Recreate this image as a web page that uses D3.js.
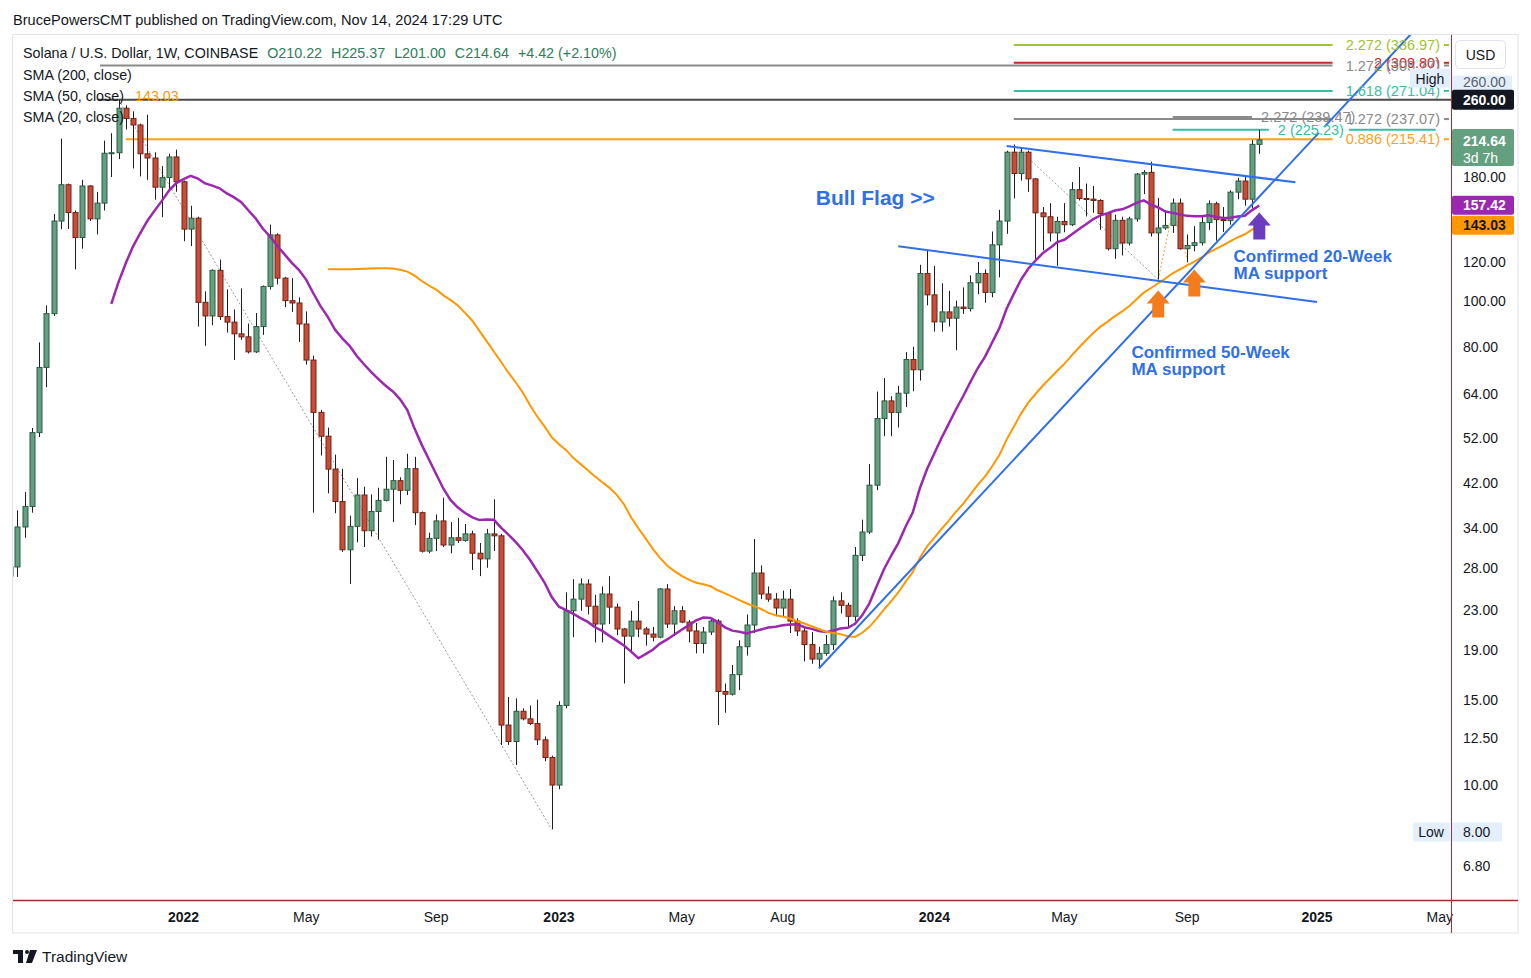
<!DOCTYPE html>
<html>
<head>
<meta charset="utf-8">
<script src="https://cdn.jsdelivr.net/npm/d3@7"></script>
<style>
  body { margin: 0; background: #fff; }
  svg text { font-family: "Liberation Sans", Arial, sans-serif; }
</style>
</head>
<body>
<svg id="chart" width="1531" height="978"></svg>
<script>
// ---- data: SOL/USD weekly candles (Coinbase), first week 2021-06-14
const firstWeek = "2021-06-14";

const opens = [
  35.5, 35, 33, 34, 32, 27, 28.2, 34.1, 37.6, 53.4,
  72.8, 94, 146, 173.5, 152, 135, 172.5, 147.5, 159, 201.5,
  202, 249.6, 237.8, 230.5, 201, 197, 171.5, 179.5, 198, 176,
  140.5, 148, 99.2, 93, 115.5, 92.7, 90.3, 85.4, 84.2, 78.4,
  88.4, 107, 136.7, 111.3, 100, 98.9, 89.5, 75.4, 58.8, 52.5,
  44.9, 38.5, 30.6, 34.2, 39.7, 33.5, 36.7, 38.7, 40.8, 42.5,
  40.6, 45, 36.5, 30.4, 32.3, 35.1, 31.3, 32.4, 32, 33,
  30.1, 29.3, 33, 32.7, 13.3, 12.3, 14.2, 13.7, 13.4, 12.4,
  11.4, 10, 14.6, 22.9, 24.2, 26, 23.4, 21.5, 24.8, 23.3,
  21, 20.3, 21.8, 21, 20.5, 20.2, 25.4, 21.5, 22.9, 21.7,
  20.8, 19.6, 20.7, 21.8, 15.6, 15.4, 16.9, 19.3, 21.4, 27.4,
  24.8, 24.2, 23.2, 24.2, 21.8, 20.8, 19.5, 18.2, 18.7, 19.5,
  24, 23.5, 22.3, 29.8, 33.3, 41.6, 57.1, 62.1, 58.8, 64.4,
  75.6, 72, 113.8, 102.8, 90.4, 94.8, 92, 97, 96.3, 108.9,
  113.8, 104, 130.4, 146, 202.5, 183, 202.5, 178.4, 151.8, 149,
  138, 145.7, 143.5, 169.5, 162.5, 162, 161, 151.3, 128, 146.5,
  131.5, 147.5, 182.5, 184, 138, 141.3, 143, 159, 128, 130,
  131.7, 145, 158.5, 147, 146.3, 167.5, 176.6, 162, 210.22
];
const highs = [
  42, 36.5, 37, 36, 32.8, 30, 36.9, 40.3, 54.6, 82,
  97.8, 151, 216, 174.5, 153.5, 177.6, 173, 167.7, 214, 221.7,
  260, 253, 246, 232, 242, 202.5, 189.6, 201, 205, 177,
  157, 149, 104.5, 116, 121.6, 105.5, 95.9, 106, 89.7, 94.3,
  107.5, 143.6, 137.7, 112, 111.3, 101.6, 95, 77, 59.5, 54.7,
  48.1, 45, 36, 43, 41.3, 39.8, 41.1, 47.6, 46.9, 43.2,
  48.3, 47.6, 36.7, 33.2, 36.2, 39.2, 34.9, 35.6, 34.6, 33.5,
  31.6, 33.8, 38.9, 33, 15.2, 15.1, 14.4, 14.6, 15, 12.6,
  11.5, 14.9, 25, 26.6, 26.7, 26.6, 24.7, 25.7, 27, 23.7,
  21.1, 22.9, 24, 21.2, 21.2, 25.5, 26, 23.4, 23.4, 21.9,
  21.6, 21.2, 22, 22, 16.2, 17.7, 19.9, 22.5, 32.2, 28.4,
  25.7, 24.9, 25.2, 25.4, 22.1, 21.1, 20.7, 19.3, 20.4, 24.5,
  25, 23.8, 31, 35.3, 46, 64.9, 69.2, 63.5, 66.7, 78.3,
  80.3, 118.6, 126.6, 118, 108.6, 104.8, 100, 106.5, 112.8, 120.2,
  116, 138.9, 154, 204, 210, 207, 204, 179, 156, 159,
  149, 159, 175.7, 188.7, 174.5, 172.5, 162, 152, 150.5, 149,
  149, 183.5, 186, 193.5, 163, 153.5, 162.5, 162.5, 137, 142.5,
  149, 161, 160, 156, 169, 179.3, 180, 214.5, 225.37
];
const lows = [
  33, 22.5, 31.5, 30.5, 25, 22.7, 26.9, 32.4, 36.5, 52.3,
  66.3, 93, 140.5, 140.6, 116, 128, 146, 137, 153.5, 180,
  196, 225.7, 187.5, 180.5, 177.6, 161.6, 148.7, 168.5, 167.8, 132.6,
  129.6, 88.4, 80.7, 89, 91.2, 85.9, 75.4, 83, 77.8, 78,
  85, 105.5, 108, 97, 94.8, 82.2, 73.8, 36.5, 47.9, 40,
  36.4, 30.3, 26, 31.7, 31, 32.6, 32.1, 38.5, 34.9, 38,
  39.7, 34.4, 30.2, 30.1, 30.4, 31, 30.1, 31.6, 31.8, 27.8,
  27, 28.1, 30.4, 12.1, 12.1, 11, 13.6, 13.3, 12.1, 11.2,
  8.1, 9.8, 14.4, 20.2, 22.9, 22.5, 19.7, 19.7, 21.5, 20.4,
  16.2, 18.7, 20.2, 19.4, 19.8, 20.1, 21.1, 20.3, 21.6, 19.7,
  18.7, 18.7, 20.4, 13.3, 14.1, 15.3, 15.7, 18.5, 20.6, 24.2,
  23.9, 22.3, 22.2, 20.6, 20.3, 18, 17.8, 17.4, 18.5, 19,
  22.6, 21.2, 21.8, 29, 33, 40.6, 52.5, 52.5, 54.7, 60.3,
  65, 68.4, 97.8, 86.3, 86.3, 88.4, 79, 93.9, 95, 103.1,
  99, 101.6, 111.7, 137.4, 162.5, 177, 167.7, 122, 127, 132.5,
  118, 138.4, 142.5, 161, 149.2, 151.8, 140, 127, 122, 124,
  130, 145.5, 166, 135.6, 110.6, 140, 138, 127.5, 120, 126.5,
  130, 140, 133, 138.6, 143.5, 162, 157, 155, 201
];
const closes = [
  35, 33, 34, 32, 27, 28.2, 34.1, 37.6, 53.4, 72.8,
  94, 146, 173.5, 152, 135, 172.5, 147.5, 159, 201.5, 202,
  249.6, 237.8, 230.5, 201, 197, 171.5, 179.5, 198, 176, 140.5,
  148, 99.2, 93, 115.5, 92.7, 90.3, 85.4, 84.2, 78.4, 88.4,
  107, 136.7, 111.3, 100, 98.9, 89.5, 75.4, 58.8, 52.5, 44.9,
  38.5, 30.6, 34.2, 39.7, 33.5, 36.7, 38.7, 40.8, 42.5, 40.6,
  45, 36.5, 30.4, 32.3, 35.1, 31.3, 32.4, 32, 33, 30.1,
  29.3, 33, 32.7, 13.3, 12.3, 14.2, 13.7, 13.4, 12.4, 11.4,
  10, 14.6, 22.9, 24.2, 26, 23.4, 21.5, 24.8, 23.3, 21,
  20.3, 21.8, 21, 20.5, 20.2, 25.4, 21.5, 22.9, 21.7, 20.8,
  19.6, 20.7, 21.8, 15.6, 15.4, 16.9, 19.3, 21.4, 27.4, 24.8,
  24.2, 23.2, 24.2, 21.8, 20.8, 19.5, 18.2, 18.7, 19.5, 24,
  23.5, 22.3, 29.8, 33.3, 41.6, 57.1, 62.1, 58.8, 64.4, 75.6,
  72, 113.8, 102.8, 90.4, 94.8, 92, 97, 96.3, 108.9, 113.8,
  104, 130.4, 146, 202.5, 183, 202.5, 178.4, 151.8, 149, 138,
  145.7, 143.5, 169.5, 162.5, 162, 161, 151.3, 128, 146.5, 131.5,
  147.5, 182.5, 184, 138, 141.3, 143, 159, 128, 130, 131.7,
  145, 158.5, 147, 146.3, 167.5, 176.6, 162, 210.22, 214.64
];

const priceTicks = [180, 120, 100, 80, 64, 52, 42, 34, 28, 23, 19, 15, 12.5, 10, 6.8];
const timeTickDates = ["2022-01-03", "2022-05-02", "2022-09-05", "2023-01-02", "2023-05-01", "2023-08-07",
                       "2024-01-01", "2024-05-06", "2024-09-02", "2025-01-06", "2025-05-05"];
const timeTickLabels = ["2022", "May", "Sep", "2023", "May", "Aug", "2024", "May", "Sep", "2025", "May"];

const smaPeriods = [20, 50];
const smaLastLabels = [157.42, 143.03];
const highLevel = 260;
const lowLevel = 8;

// fib levels (text, price, start date, end date)
const fibTexts = ["2.272 (336.97)", "2 (309.80)", "1.272 (305.77)", "1.618 (271.04)", "1.272 (237.07)", "0.886 (215.41)"];
const fibPrices = [336.97, 309.80, 305.77, 271.04, 237.07, 215.41];
const fibStarts = ["2024-03-18", "2024-03-18", "2021-10-14", "2024-03-18", "2024-03-18", "2021-11-08"];
const fibEnd = "2025-01-21";
const fib2Texts = ["2.272 (239.47)", "2 (225.23)"];
const fib2Prices = [239.47, 225.23];
const fib2Start = "2024-08-19";
const fib2Ends = ["2024-11-04", "2025-05-01"];
const fib2LabelAt = "2024-12-31";

// drawing anchors [date, price]
const trendLine = [["2023-09-11", 17.4], ["2025-04-07", 355]];
const flagTop = [["2024-03-11", 208.6], ["2024-12-16", 175.5]];
const flagBottom = [["2023-11-27", 129.5], ["2025-01-06", 99.4]];
const dottedGray = [[["2021-11-01", 260], ["2022-12-26", 8.1]], [["2024-03-18", 210], ["2024-08-05", 110.6]]];
const dottedOrange = [["2024-08-05", 110.6], ["2024-08-19", 153], ["2024-09-02", 122]];
const notes = [
  ["Bull Flag >>", "2023-09-08", 163, "big"],
  ["Confirmed 20-Week", "2024-10-17", 123.5, "small"],
  ["MA support", "2024-10-17", 114.1, "small"],
  ["Confirmed 50-Week", "2024-07-10", 78.3, "small"],
  ["MA support", "2024-07-10", 72.2, "small"]
];
const arrows = [["2024-08-05", 105, "orange"], ["2024-09-09", 116, "orange"], ["2024-11-11", 152, "purple"]];

// ---- layout
const plot = { left: 13, top: 35, right: 1451, bottom: 900 };
const outer = { right: 1518, bottom: 933 };
const svg = d3.select("#chart");
const parse = d3.utcParse("%Y-%m-%d");
const start = parse(firstWeek);
const dates = closes.map((_, i) => d3.utcDay.offset(start, 7 * i));

const x = d3.scaleUtc().domain([parse("2022-01-03"), parse("2024-11-11")]).range([183.5, 1259.3]);
const y = d3.scaleLog().domain([8, 180]).range([832, 177]);
const px = d => x(parse(d));
const f2 = d3.format(".2f");

svg.append("rect").attr("width", 1531).attr("height", 978).attr("fill", "#fff");

svg.append("defs").append("clipPath").attr("id", "clip")
  .append("rect").attr("x", plot.left).attr("y", plot.top)
  .attr("width", plot.right - plot.left).attr("height", plot.bottom - plot.top);

// frame
svg.append("rect").attr("x", 12.5).attr("y", 34.5)
  .attr("width", outer.right - 12.5).attr("height", outer.bottom - 34.5)
  .attr("fill", "none").attr("stroke", "#e0e3eb");

const g = svg.append("g").attr("clip-path", "url(#clip)");

// horizontal levels
g.append("line").attr("x1", px("2021-10-12")).attr("x2", plot.right)
  .attr("y1", y(highLevel)).attr("y2", y(highLevel))
  .attr("stroke", "#4a4a4a").attr("stroke-width", 2);

const fibColors = ["#9fc236", "#c62828", "#8a8a8a", "#35bfa0", "#8a8a8a", "#ff9f1a"];
fibPrices.forEach((p, i) => {
  g.append("line").attr("x1", px(fibStarts[i])).attr("x2", px(fibEnd))
    .attr("y1", y(p)).attr("y2", y(p))
    .attr("stroke", fibColors[i]).attr("stroke-width", 2);
  g.append("line").attr("x1", 1444).attr("x2", 1449).attr("y1", y(p)).attr("y2", y(p))
    .attr("stroke", fibColors[i]).attr("stroke-width", 2);
});

const fib2Colors = ["#8a8a8a", "#35bfa0"];
fib2Prices.forEach((p, i) => {
  g.append("line").attr("x1", px(fib2Start)).attr("x2", px(fib2Ends[i]))
    .attr("y1", y(p)).attr("y2", y(p))
    .attr("stroke", fib2Colors[i]).attr("stroke-width", 2);
});

// dotted connectors
const lineGen = d3.line().x(d => px(d[0])).y(d => y(d[1]));
dottedGray.forEach(seg => {
  g.append("path").attr("d", lineGen(seg)).attr("fill", "none")
    .attr("stroke", "#9a9a9a").attr("stroke-width", 1).attr("stroke-dasharray", "2,2");
});
g.append("path").attr("d", lineGen(dottedOrange)).attr("fill", "none")
  .attr("stroke", "#f7a01e").attr("stroke-width", 1).attr("stroke-dasharray", "2,2");

// candles
const up = "#63a07f", upEdge = "#2c5a42", dn = "#c94c36", dnEdge = "#6e2316";
const candles = g.append("g");
dates.forEach((d, i) => {
  const cx = Math.round(x(d)) + 0.5;
  const isUp = closes[i] >= opens[i];
  candles.append("line").attr("x1", cx).attr("x2", cx)
    .attr("y1", y(highs[i])).attr("y2", y(lows[i]))
    .attr("stroke", "#1f1f1f").attr("stroke-width", 1);
  const top = y(Math.max(opens[i], closes[i]));
  const bot = y(Math.min(opens[i], closes[i]));
  candles.append("rect").attr("x", cx - 2.5).attr("y", top)
    .attr("width", 5).attr("height", Math.max(1, bot - top))
    .attr("fill", isUp ? up : dn).attr("stroke", isUp ? upEdge : dnEdge).attr("stroke-width", 1);
});

// moving averages
const sma = n => closes.map((c, i) => i < n - 1 ? null : d3.mean(closes.slice(i - n + 1, i + 1)));
const smaColors = ["#9c27b0", "#ff9800"];
smaPeriods.forEach((n, k) => {
  const vals = sma(n);
  const ln = d3.line().defined(v => v != null).x((v, i) => x(dates[i])).y(v => y(v));
  g.append("path").attr("d", ln(vals)).attr("fill", "none")
    .attr("stroke", smaColors[k]).attr("stroke-width", k === 0 ? 2.5 : 2);
});

// trend and flag lines
[trendLine, flagTop, flagBottom].forEach(seg => {
  g.append("path").attr("d", lineGen(seg)).attr("fill", "none")
    .attr("stroke", "#2f6fe8").attr("stroke-width", 2);
});

// fib labels
fibTexts.forEach((t, i) => {
  g.append("text").attr("x", 1440).attr("y", y(fibPrices[i])).attr("dy", "0.35em")
    .attr("text-anchor", "end").attr("font-size", 14.5).attr("fill", fibColors[i]).text(t);
});
g.append("text").attr("x", px(fib2Ends[0]) + 9).attr("y", y(fib2Prices[0])).attr("dy", "0.35em")
  .attr("font-size", 14.5).attr("fill", fib2Colors[0]).text(fib2Texts[0]);
g.append("rect").attr("x", px(fib2LabelAt) - 42).attr("y", y(fib2Prices[1]) - 3)
  .attr("width", 80).attr("height", 6).attr("fill", "#fff");
g.append("text").attr("x", px(fib2LabelAt)).attr("y", y(fib2Prices[1])).attr("dy", "0.35em")
  .attr("text-anchor", "middle").attr("font-size", 14.5).attr("fill", fib2Colors[1]).text(fib2Texts[1]);

// annotations
notes.forEach(([t, d, p, size]) => {
  g.append("text").attr("x", px(d)).attr("y", y(p)).attr("dy", "0.35em")
    .attr("font-size", size === "big" ? 21 : 17).attr("font-weight", "bold")
    .attr("fill", "#2f6fe8").text(t);
});
arrows.forEach(([d, p, c]) => {
  const ax = px(d), ay = y(p);
  g.append("path")
    .attr("d", `M${ax},${ay} L${ax + 11.5},${ay + 13} L${ax + 6},${ay + 13} L${ax + 6},${ay + 27} L${ax - 6},${ay + 27} L${ax - 6},${ay + 13} L${ax - 11.5},${ay + 13} Z`)
    .attr("fill", c === "orange" ? "#f47c1c" : "#6a3cbf");
});

// High / Low markers
svg.append("rect").attr("x", 1410).attr("y", y(highLevel) - 31).attr("width", 40).attr("height", 19).attr("fill", "#e3effd");
svg.append("text").attr("x", 1430).attr("y", y(highLevel) - 21).attr("dy", "0.35em")
  .attr("text-anchor", "middle").attr("font-size", 14).attr("fill", "#131722").text("High");
svg.append("rect").attr("x", 1413).attr("y", y(lowLevel) - 9.5).attr("width", 37).attr("height", 19).attr("fill", "#e3effd");
svg.append("text").attr("x", 1431).attr("y", y(lowLevel)).attr("dy", "0.35em")
  .attr("text-anchor", "middle").attr("font-size", 14).attr("fill", "#131722").text("Low");

// price axis
const axisX = 1463;
const axisFont = 14;
priceTicks.forEach(v => {
  svg.append("text").attr("x", axisX).attr("y", y(v)).attr("dy", "0.35em")
    .attr("font-size", axisFont).attr("fill", "#131722").text(f2(v));
});
// light "High" price tag
svg.append("rect").attr("x", 1452).attr("y", y(highLevel) - 26).attr("width", 60).attr("height", 17).attr("fill", "#e3effd");
svg.append("text").attr("x", axisX).attr("y", y(highLevel) - 18).attr("dy", "0.35em")
  .attr("font-size", axisFont).attr("fill", "#5d606b").text(f2(highLevel));
svg.append("rect").attr("x", 1452).attr("y", y(highLevel) - 33).attr("width", 62).attr("height", 9).attr("fill", "#fff");
// low tag
svg.append("rect").attr("x", 1452).attr("y", y(lowLevel) - 9.5).attr("width", 50).attr("height", 19).attr("fill", "#e3effd");
svg.append("text").attr("x", axisX).attr("y", y(lowLevel)).attr("dy", "0.35em")
  .attr("font-size", axisFont).attr("fill", "#131722").text(f2(lowLevel));

function tag(v, bg, fg, h) {
  svg.append("rect").attr("x", 1452).attr("y", y(v) - h / 2).attr("width", 62).attr("height", h)
    .attr("rx", 2).attr("fill", bg);
  svg.append("text").attr("x", axisX).attr("y", y(v)).attr("dy", "0.35em")
    .attr("font-size", axisFont).attr("font-weight", "bold").attr("fill", fg).text(f2(v));
}
tag(highLevel, "#131722", "#fff", 20);
tag(smaLastLabels[0], "#9c27b0", "#fff", 19);
tag(smaLastLabels[1], "#ff9800", "#131722", 19);

// last price tag with countdown
const last = closes.length - 1;
const lastY = y(closes[last]);
svg.append("rect").attr("x", 1452).attr("y", lastY - 11).attr("width", 62).attr("height", 37)
  .attr("rx", 2).attr("fill", "#63a07f");
svg.append("text").attr("x", axisX).attr("y", lastY + 1).attr("dy", "0.35em")
  .attr("font-size", axisFont).attr("font-weight", "bold").attr("fill", "#fff").text(f2(closes[last]));
svg.append("text").attr("x", axisX).attr("y", lastY + 18).attr("dy", "0.35em")
  .attr("font-size", axisFont).attr("fill", "#fff").text("3d 7h");

// USD box
svg.append("rect").attr("x", 1455.5).attr("y", 40.5).attr("width", 50).attr("height", 28)
  .attr("rx", 4).attr("fill", "#fff").attr("stroke", "#e0e3eb");
svg.append("text").attr("x", 1480.5).attr("y", 55).attr("dy", "0.35em").attr("text-anchor", "middle")
  .attr("font-size", 14).attr("fill", "#131722").text("USD");

// time axis
timeTickDates.forEach((d, i) => {
  const isYear = /^\d{4}$/.test(timeTickLabels[i]);
  svg.append("text").attr("x", px(d)).attr("y", 917).attr("dy", "0.35em")
    .attr("text-anchor", "middle").attr("font-size", 14)
    .attr("font-weight", isYear ? "bold" : "normal").attr("fill", "#131722").text(timeTickLabels[i]);
});

// axis separators
svg.append("line").attr("x1", plot.right + 0.5).attr("x2", plot.right + 0.5)
  .attr("y1", plot.top).attr("y2", outer.bottom).attr("stroke", "#b22a2e").attr("stroke-width", 1);
svg.append("line").attr("x1", plot.left).attr("x2", outer.right)
  .attr("y1", plot.bottom + 0.5).attr("y2", plot.bottom + 0.5).attr("stroke", "#a52a2a").attr("stroke-width", 1.5);

// header and legend
svg.append("text").attr("x", 13).attr("y", 20).attr("dy", "0.35em").attr("font-size", 14.6)
  .attr("fill", "#131722").text("BrucePowersCMT published on TradingView.com, Nov 14, 2024 17:29 UTC");

const chg = closes[last] - closes[last - 1];
const leg = svg.append("text").attr("x", 23).attr("y", 53).attr("dy", "0.35em").attr("font-size", 14.3).attr("fill", "#131722");
leg.append("tspan").text("Solana / U.S. Dollar, 1W, COINBASE");
const valColor = "#2f7d5b";
[["O", opens[last]], ["H", highs[last]], ["L", lows[last]], ["C", closes[last]]].forEach(([k, v], i) => {
  leg.append("tspan").attr("dx", 9).attr("fill", valColor).text(k + f2(v));
});
leg.append("tspan").attr("dx", 9).attr("fill", valColor)
  .text(`+${f2(chg)} (+${f2(chg / closes[last - 1] * 100)}%)`);

const smaLegend = ["SMA (200, close)", "SMA (50, close)", "SMA (20, close)"];
smaLegend.forEach((t, i) => {
  svg.append("text").attr("x", 23).attr("y", 75 + i * 21).attr("dy", "0.35em")
    .attr("font-size", 14.3).attr("fill", "#131722").text(t);
});
svg.append("text").attr("x", 135).attr("y", 96).attr("dy", "0.35em").attr("font-size", 14.3)
  .attr("fill", "#ff9800").text(f2(smaLastLabels[1]));

// footer logo
const logo = svg.append("g").attr("fill", "#131722");
logo.append("rect").attr("x", 13).attr("y", 950).attr("width", 10).attr("height", 4);
logo.append("rect").attr("x", 18).attr("y", 950).attr("width", 5).attr("height", 13);
logo.append("circle").attr("cx", 27).attr("cy", 952).attr("r", 2);
logo.append("path").attr("d", "M30,950 L37,950 L32,963 L26,963 Z");
svg.append("text").attr("x", 42).attr("y", 957).attr("dy", "0.35em").attr("font-size", 15.5)
  .attr("fill", "#131722").text("TradingView");
</script>
</body>
</html>
